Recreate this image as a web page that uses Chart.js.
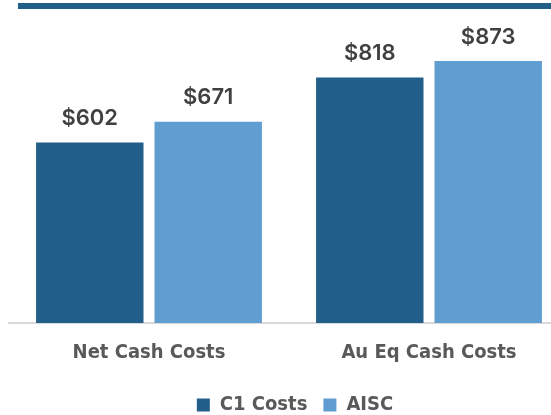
<!DOCTYPE html>
<html>
<head>
<meta charset="utf-8">
<script src="https://cdn.jsdelivr.net/npm/chart.js@4.4.1/dist/chart.umd.min.js"></script>
<style>
  html, body { margin: 0; padding: 0; background: #ffffff; overflow: hidden; }
  #wrap { position: relative; width: 551px; height: 415px; overflow: hidden; }
  #topbar { position: absolute; left: 18px; top: 3px; width: 560px; height: 6px; background: #215F8A; }
  canvas { position: absolute; left: 0; top: 0; }
</style>
</head>
<body>
<div id="wrap">
  <div id="topbar"></div>
  <canvas id="c" width="587" height="425"></canvas>
</div>
<script>
const categories = ['Net Cash Costs', 'Au Eq Cash Costs'];
const seriesNames = ['C1 Costs', 'AISC'];
const c1Costs = [602, 818];
const aiscCosts = [671, 873];

const DARK = '#215F8A';
const LIGHT = '#609DD1';
const FAMILY = "'DejaVu Sans Condensed', 'DejaVu Sans', sans-serif";

const valueLabels = {
  id: 'valueLabels',
  afterDatasetsDraw(chart) {
    const ctx = chart.ctx;
    ctx.save();
    ctx.font = '600 22px Inter, "DejaVu Sans", sans-serif';
    ctx.fillStyle = '#404040';
    ctx.textAlign = 'center';
    ctx.textBaseline = 'alphabetic';
    chart.data.datasets.forEach((ds, di) => {
      const meta = chart.getDatasetMeta(di);
      meta.data.forEach((bar, i) => {
        ctx.fillText('$' + ds.data[i], bar.x, bar.y - 17.5);
      });
    });
    ctx.restore();
  }
};

const legendShift = {
  id: 'legendShift',
  afterLayout(chart) {
    if (chart.legend) { chart.legend.left += 6; chart.legend.right += 6; }
  }
};

new Chart(document.getElementById('c'), {
  type: 'bar',
  data: {
    labels: categories,
    datasets: [
      { label: seriesNames[0], data: c1Costs, backgroundColor: DARK, borderWidth: 0 },
      { label: seriesNames[1], data: aiscCosts, backgroundColor: LIGHT, borderWidth: 0 }
    ]
  },
  options: {
    responsive: false,
    animation: false,
    devicePixelRatio: 1,
    layout: { padding: { top: 23, left: 9, right: 18, bottom: 0 } },
    datasets: { bar: { categoryPercentage: 0.846, barPercentage: 0.907 } },
    scales: {
      x: {
        grid: { display: false, drawTicks: false },
        border: { display: true, color: '#D9D9D9', width: 2 },
        ticks: { color: '#595959', font: { family: FAMILY, size: 20, weight: 'bold' }, padding: 18 },
        afterFit(scale) { scale.height = 56; }
      },
      y: { display: false, min: 0, max: 1000 }
    },
    plugins: {
      legend: {
        position: 'bottom',
        labels: {
          boxWidth: 13, boxHeight: 13, padding: 16,
          color: '#595959',
          font: { family: FAMILY, size: 20, weight: 'bold' }
        }
      },
      tooltip: { enabled: false }
    }
  },
  plugins: [valueLabels, legendShift]
});
</script>
</body>
</html>
